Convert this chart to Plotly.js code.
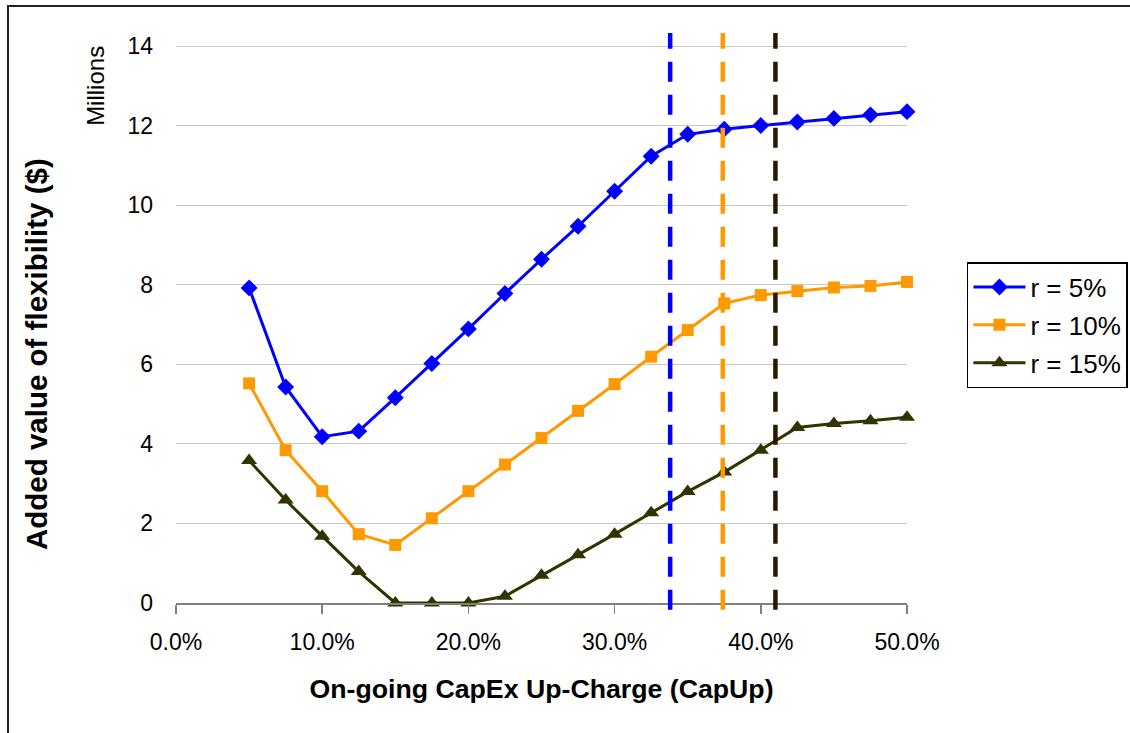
<!DOCTYPE html>
<html>
<head>
<meta charset="utf-8">
<script src="https://cdn.plot.ly/plotly-3.0.1.min.js"></script>
<style>
  html, body { margin: 0; padding: 0; background: #ffffff; overflow: hidden; }
  #chart { width: 1130px; height: 733px; position: relative; }
  #frame {
    position: absolute; left: 7px; top: 5px; width: 1200px; height: 800px;
    border: 2px solid #222222; pointer-events: none; box-sizing: border-box;
  }
</style>
</head>
<body>
<div id="chart"></div>
<div id="frame"></div>
<script>
// On-going CapEx up-charge, in percent
const capUp = [5, 7.5, 10, 12.5, 15, 17.5, 20, 22.5, 25, 27.5, 30, 32.5, 35, 37.5, 40, 42.5, 45, 47.5, 50];

// Added value of flexibility, millions of dollars, for each discount rate
const valueR5  = [7.92, 5.43, 4.18, 4.32, 5.16, 6.02, 6.89, 7.78, 8.64, 9.47, 10.35, 11.23, 11.78, 11.91, 12.0, 12.09, 12.18, 12.27, 12.35];
const valueR10 = [5.52, 3.84, 2.81, 1.73, 1.46, 2.13, 2.81, 3.48, 4.15, 4.83, 5.50, 6.19, 6.86, 7.53, 7.74, 7.84, 7.93, 7.97, 8.07];
const valueR15 = [3.58, 2.59, 1.68, 0.79, 0, 0, 0, 0.17, 0.70, 1.21, 1.73, 2.27, 2.80, 3.29, 3.84, 4.41, 4.51, 4.58, 4.67];

const seriesNames = ['r = 5%', 'r = 10%', 'r = 15%'];
const seriesColors = ['#0000FF', '#FF9900', '#333300'];
const markerSymbols = ['diamond', 'square', 'triangle-up'];
const markerSizes = [13, 12, 14];

// Break-even up-charge for each discount rate (percent)
const thresholds = [33.8, 37.4, 41.0];
const thresholdColors = ['#0000FF', '#FF9900', '#2A1800'];

const xTicks = [0, 10, 20, 30, 40, 50];
const xTickText = ['0.0%', '10.0%', '20.0%', '30.0%', '40.0%', '50.0%'];
const yTicks = [0, 2, 4, 6, 8, 10, 12, 14];

const FONT = 'Liberation Sans, Arial, sans-serif';

const allValues = [valueR5, valueR10, valueR15];
const traces = allValues.map((vals, i) => ({
  type: 'scatter',
  mode: 'lines+markers',
  name: seriesNames[i],
  legendgroup: 'g' + i,
  x: capUp,
  y: vals,
  line: { color: seriesColors[i], width: 3 },
  marker: { symbol: markerSymbols[i], size: markerSizes[i], color: seriesColors[i] },
  cliponaxis: false
}));

const shapes = thresholds.map((xv, i) => ({
  type: 'line',
  xref: 'x', yref: 'paper',
  x0: xv, x1: xv, y0: -0.012, y1: 1,
  line: { color: thresholdColors[i], width: 4.5, dash: '20px,13px' },
  layer: 'above'
}));

const layout = {
  width: 1130, height: 733,
  margin: { l: 176, r: 223, t: 33, b: 130, autoexpand: false },
  paper_bgcolor: '#ffffff',
  plot_bgcolor: '#ffffff',
  font: { family: FONT, color: '#000000', size: 23 },
  showlegend: true,
  legend: {
    x: 1.082, xanchor: 'left', y: 0.598, yanchor: 'top',
    bordercolor: '#000000', borderwidth: 1.5, bgcolor: '#ffffff',
    font: { family: FONT, size: 26, color: '#000000' },
    tracegroupgap: 1, itemwidth: 52
  },
  xaxis: {
    range: [0, 50],
    tickvals: xTicks, ticktext: xTickText,
    showgrid: false, zeroline: false,
    showline: true, linecolor: '#808080', linewidth: 2,
    ticks: 'outside', ticklen: 9, tickwidth: 1.5, tickcolor: '#808080',
    tickfont: { family: FONT, size: 23, color: '#000000' },
    ticklabelstandoff: 8,
    automargin: false,
    title: {
      text: 'On-going CapEx Up-Charge (CapUp)',
      font: { family: FONT, size: 26.7, color: '#000000', weight: 'bold' },
      standoff: 26
    }
  },
  yaxis: {
    range: [0, 14 * 570 / 557],
    tickvals: yTicks,
    showgrid: true, gridcolor: '#C8C8C8', gridwidth: 1,
    zeroline: false, showline: false,
    ticks: '',
    tickfont: { family: FONT, size: 23, color: '#000000' },
    ticklabelstandoff: 22,
    automargin: false
  },
  shapes: shapes,
  annotations: [
    {
      text: 'Millions',
      xref: 'paper', yref: 'paper',
      x: -0.111, y: 0.907, xanchor: 'center', yanchor: 'middle',
      textangle: -90, showarrow: false,
      font: { family: FONT, size: 24, color: '#000000' }
    },
    {
      text: '<b>Added value of flexibility ($)</b>',
      xref: 'paper', yref: 'paper',
      x: -0.190, y: 0.437, xanchor: 'center', yanchor: 'middle',
      textangle: -90, showarrow: false,
      font: { family: FONT, size: 29.5, color: '#000000' }
    }
  ]
};

Plotly.newPlot('chart', traces, layout, { displayModeBar: false, staticPlot: true });
</script>
</body>
</html>
